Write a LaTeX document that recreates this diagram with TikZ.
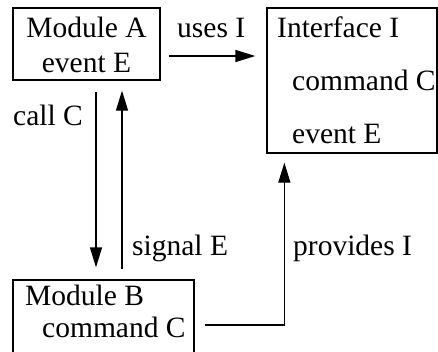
\documentclass[tikz,border=0pt]{standalone}
\usepackage{fontspec}
\setmainfont{Liberation Serif}
\usetikzlibrary{arrows.meta,positioning,calc}

\begin{document}
\begin{tikzpicture}[
    x=1pt, y=-1pt,
    every node/.style={font=\fontsize{29.5}{34}\selectfont, inner sep=0pt},
    box/.style={draw=black, line width=1.3pt},
    lbl/.style={anchor=base west},
    arrow/.style={-{Triangle[length=20pt, width=12pt]}, line width=1.3pt, draw=black}
]
    \useasboundingbox (0,0) rectangle (438,351);

    % Boxes
    \node[box, minimum width=147pt, minimum height=72pt] (modA) at (86.5,44) {};
    \node[box, minimum width=170pt, minimum height=145pt] (iface) at (352,80.5) {};
    \node[box, minimum width=181pt, minimum height=90pt] (modB) at (103.5,325) {};

    % Box texts
    \node[anchor=base] (modAname) at (86.5,37) {Module A};
    \node[anchor=base] (modAevt) at (86.5,72) {event E};
    \node[lbl] (ifname) at (277,37) {Interface I};
    \node[lbl] (ifcmd) at (292,90) {command C};
    \node[lbl] (ifevt) at (292,143) {event E};
    \node[lbl] (modBname) at (25,305) {Module B};
    \node[lbl] (modBcmd) at (42,337) {command C};

    % Connector labels
    \node[lbl] (usesI) at (177,37) {uses I};
    \node[lbl] (callC) at (13,125) {call C};
    \node[lbl] (signalE) at (132,255) {signal E};
    \node[lbl] (providesI) at (293,255) {provides I};

    % Connectors
    \draw[arrow] ([shift={(8pt,-12pt)}]modA.east) -- ([shift={(-11pt,-12pt)}]modA.east -| iface.west);
    \draw[arrow] ([shift={(9.5pt,-11pt)}]modA.south) -- ([shift={(-7.5pt,12pt)}]modB.north);
    \draw[arrow] ([shift={(18.5pt,10pt)}]modB.north) -- ([shift={(35.5pt,-10pt)}]modA.south);
    \draw[arrow] ([xshift=10pt]modB.east) -| ([shift={(18pt,-9pt)}]iface.south west);

\end{tikzpicture}
\end{document}
